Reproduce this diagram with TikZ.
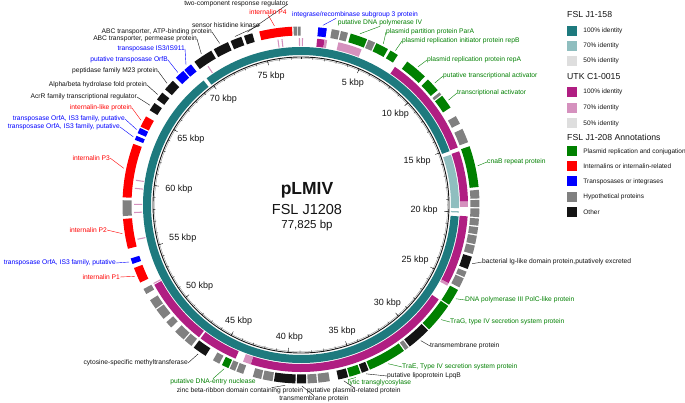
\documentclass[tikz,border=0pt]{standalone}
\usepackage{fontspec}
\setmainfont{Liberation Sans}
\usetikzlibrary{calc}
\definecolor{teal100}{RGB}{30,122,126}
\definecolor{teal70}{RGB}{143,190,191}
\definecolor{grey50}{RGB}{222,222,222}
\definecolor{mag100}{RGB}{176,30,130}
\definecolor{mag70}{RGB}{213,145,190}
\definecolor{annG}{RGB}{0,128,0}
\definecolor{annR}{RGB}{255,0,0}
\definecolor{annB}{RGB}{0,0,255}
\definecolor{annH}{RGB}{128,128,128}
\definecolor{ink}{RGB}{20,20,20}
\tikzset{
  lbl/.style={font=\fontsize{6.7}{8}\selectfont,inner sep=0pt,text=#1},
  lbl/.default=ink,
  lead/.style={draw=#1,line width=0.4pt},
  lead/.default=ink,
  kbp/.style={font=\fontsize{9}{10}\selectfont,inner sep=0pt,text=ink},
  swatch/.style={fill=#1,minimum size=10pt,inner sep=0pt},
  legtitle/.style={font=\fontsize{8.7}{10}\selectfont,anchor=west,inner sep=0pt,text=ink},
  legtext/.style={font=\fontsize{6.5}{8}\selectfont,anchor=west,inner sep=0pt,text=ink},
  % ring segment from kbp #1 to kbp #2 between radii #3 and #4
  pics/band/.style args={#1/#2/#3/#4}{code={
    \pgfmathsetmacro\bandA{#1*4.62576-90}
    \pgfmathsetmacro\bandB{#2*4.62576-90}
    \fill (\bandA:#3) arc[start angle=\bandA,end angle=\bandB,radius=#3]
      -- (\bandB:#4) arc[start angle=\bandB,end angle=\bandA,radius=#4] -- cycle;
  }},
}

\begin{document}
\begin{tikzpicture}[x=1pt,y=-1pt]
  \useasboundingbox (0,0) rectangle (685,403);
  \fill[white] (0,0) rectangle (685,403);
  \coordinate (c) at (301,205);

  % FSL J1-158 ring
  \foreach \s/\e/\c in {69.9/92.975/teal100,15.45/19.7/teal70,19.95/20.05/teal70,20.35/69.6/teal100}
    \pic[\c] at (c) {band=\s/\e/150/158};
  % UTK C1-0015 ring
  \foreach \s/\e/\c in {1.2/1.75/mag100,1.75/1.95/mag70,2.8/4.6/mag70,7.4/15.1/mag100,15.4/19.2/mag100,
    19.2/19.6/mag70,20.3/25.5/mag100,25.5/25.7/mag70,26.9/42.7/mag100,42.7/43.3/mag70,43.9/46.9/mag100,
    47.05/52.2/mag100,52.27/52.35/mag70,55.77/55.85/mag70,57.77/57.85/mag70,58.37/58.45/mag70,
    59.57/59.65/mag70,60.17/60.25/mag70,70.47/70.55/mag70,76.07/76.15/mag70,76.37/76.45/mag70,
    77.67/77.75/mag70,0.07/0.15/mag70}
    \pic[\c] at (c) {band=\s/\e/159/167};
  % annotations
  \foreach \s/\e/\c in {74.9/77.2/annR,77.3/77.55/annH,77.6/77.8/annH,1.2/1.8/annB,2.15/2.7/annH,
    2.8/3.3/annH,3.5/4.7/annG,4.8/5.3/annH,5.4/6.3/annG,6.5/7.1/annG,7.9/9.5/annG,9.8/10.8/annG,
    11.0/11.2/annH,11.3/12.3/annG,13.0/13.6/annH,14.0/15.0/annH,15.3/18.2/annG,18.4/19.0/annH,
    19.1/19.6/annH,19.7/20.3/annH,20.4/20.9/annH,21.0/21.5/annH,21.6/22.2/annH,22.3/22.9/annH,
    23.1/24.0/ink,24.2/24.6/annH,24.7/25.4/annH,25.6/26.8/annG,26.9/29.0/annG,29.1/30.8/ink,
    30.9/31.2/annH,31.3/34.0/annG,34.1/34.6/ink,34.7/35.5/annG,35.6/36.3/ink,36.9/37.7/annH,
    37.8/38.45/annH,38.55/39.2/ink,39.3/40.8/ink,40.9/41.6/annH,41.7/42.3/annH,43.0/43.5/annH,
    43.6/44.0/annH,44.1/44.6/annG,44.8/45.3/annH,45.9/46.9/ink,47.1/47.7/annH,47.8/48.6/annH,
    49.0/49.5/annH,49.8/50.6/annH,50.7/51.4/annH,51.9/52.3/annH,52.8/53.9/annR,54.2/54.6/annB,
    55.3/57.4/annR,57.6/58.7/annH,58.9/62.7/annR,63.0/63.3/annB,63.5/63.9/annB,64.0/64.8/annR,
    65.3/65.9/ink,66.2/66.8/ink,67.1/67.9/ink,68.2/68.9/annB,69.0/69.6/annB,69.9/71.3/ink,
    71.5/72.6/ink,72.8/73.6/ink,73.8/74.4/ink}
    \pic[\c] at (c) {band=\s/\e/169.5/178.5};

  % backbone and scale
  \draw[ink,line width=0.9pt] (c) circle[radius=148];
  \draw[annH,line width=0.3pt] (c) circle[radius=146.6];
  \foreach \i in {0,...,77}
    \draw[ink,line width=0.3pt] ($(c)+({\i*4.62576-90}:148)$) -- ($(c)+({\i*4.62576-90}:145.5)$);
  \foreach \i in {5,10,...,75}{
    \pgfmathsetmacro\ang{\i*4.62576-90}
    \pgfmathtruncatemacro\anc{-\ang}
    \draw[ink,line width=0.4pt] ($(c)+(\ang:148)$) -- ($(c)+(\ang:143.5)$);
    \node[kbp,anchor=\anc] (k\i) at ($(c)+(\ang:137)$) {\i\ kbp};
  }

  % feature labels
  \foreach \k/\x/\y/\an/\fr/\c/\t [count=\i] in {
    74.1/288/4/east/east/ink/{two-component response regulator},
    76.0/268/12/center/south/annR/{internalin P4},
    73.2/260/25/east/east/ink/{sensor histidine kinase},
    72.05/212/32/east/east/ink/{ABC transporter, ATP-binding protein},
    70.6/197/39/east/east/ink/{ABC transporter, permease protein},
    69.3/185/49/east/east/annB/{transposase IS3/IS911},
    68.55/168/60/east/east/annB/{putative transposase OrfB},
    67.5/158/71/east/east/ink/{peptidase family M23 protein},
    66.5/147/85/east/east/ink/{Alpha/beta hydrolase fold protein},
    65.6/137/97/east/east/ink/{AcrR family transcriptional regulator},
    64.4/132/108/east/east/annR/{internalin-like protein},
    63.7/125/119/east/east/annB/{transposase OrfA, IS3 family, putative},
    63.15/120/127/east/east/annB/{transposase OrfA, IS3 family, putative},
    60.9/110/158/east/east/annR/{internalin P3},
    56.4/107/230/east/east/annR/{internalin P2},
    54.4/116/263/east/east/annB/{transposase OrfA, IS3 family, putative},
    53.35/120/277/east/east/annR/{internalin P1},
    46.4/188/363/east/east/ink/{cytosine-specific methyltransferase},
    44.35/213/382/center/north/annG/{putative DNA-entry nuclease},
    40.0/240/391/center/6/ink/{zinc beta-ribbon domain containing protein},
    35.95/307/391/west/north/ink/{putative plasmid-related protein},
    38.85/314/399/center/north/ink/{transmembrane protein},
    35.1/348/383/west/north west/annG/{lytic transglycosylase},
    34.35/387/376/west/west/ink/{putative lipoprotein LpqB},
    32.7/402/367/west/west/annG/{TraE, Type IV secretion system protein},
    29.95/430/346/west/west/ink/{transmembrane protein},
    27.95/450/322/west/west/annG/{TraG, type IV secretion system protein},
    26.2/465/300/west/west/annG/{DNA polymerase III PolC-like protein},
    23.55/482/262/west/west/ink/{bacterial Ig-like domain protein,putatively excreted},
    16.75/487/162/west/west/annG/{cnaB repeat protein},
    11.8/457/93/west/west/annG/{transcriptional activator},
    10.3/443/76/west/west/annG/{putative transcriptional activator},
    8.7/427/60/west/west/annG/{plasmid replication protein repA},
    6.8/402/41/west/west/annG/{plasmid replication initiator protein repB},
    5.85/386/32/west/west/annG/{plasmid partition protein ParA},
    4.1/380/23/center/south/annG/{putative DNA polymerase IV},
    1.5/355/15/center/-170/annB/{integrase/recombinase subgroup 3 protein}}{
    \node[lbl=\c,anchor=\an] (l\i) at (\x,\y) {\t};
    \coordinate (f\i) at ($(c)+({\k*4.62576-90}:181)$);
    \draw[lead=\c] (l\i.\fr) -- (f\i);
  }

  % centre
  \node[font=\fontsize{17.5}{20}\selectfont\bfseries,text=ink] (name) at (307,190) {pLMIV};
  \node[font=\fontsize{14.5}{16}\selectfont,text=ink] (strain) at (307,209.5) {FSL J1208};
  \node[font=\fontsize{11.5}{13}\selectfont,text=ink] (size) at (307,225.5) {77,825 bp};

  % legend
  \node[legtitle] (h1) at (567,15) {FSL J1-158};
  \node[legtitle] (h2) at (567,77) {UTK C1-0015};
  \node[legtitle] (h3) at (567,137) {FSL J1-208 Annotations};
  \foreach \y/\c/\t [count=\i] in {31/teal100/{100\% identity},46/teal70/{70\% identity},
    61/grey50/{50\% identity},92/mag100/{100\% identity},108/mag70/{70\% identity},
    123.5/grey50/{50\% identity},151.5/annG/{Plasmid replication and conjugation},
    166.5/annR/{Internalins or internalin-related},181.5/annB/{Transposases or integrases},
    197/annH/{Hypothetical proteins},212.5/ink/{Other}}{
    \node[swatch=\c] (s\i) at (572,\y) {};
    \node[legtext] (t\i) at ([xshift=6pt]s\i.east) {\t};
  }
\end{tikzpicture}
\end{document}
